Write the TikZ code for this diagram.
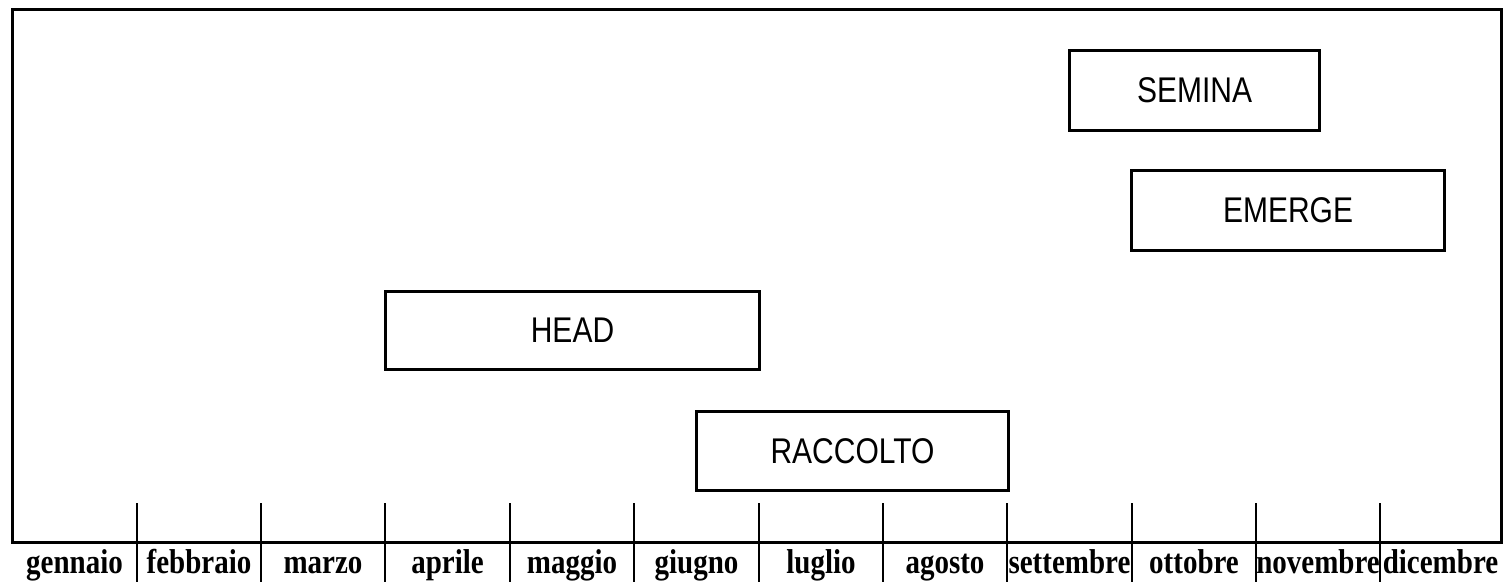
\documentclass[tikz,border=0pt]{standalone}
\usepackage{fontspec}
\setmainfont{Liberation Serif}
\newfontfamily\phasefont{Liberation Sans}
\begin{document}
\begin{tikzpicture}[x=1pt,y=-1pt,
  frame/.style={line width=3pt},
  tick/.style={line width=2pt},
  phase/.style={draw,line width=3pt,inner sep=0pt,anchor=north west,
    font=\fontsize{30}{30}\selectfont\phasefont},
  month/.style={anchor=base,inner sep=0pt,
    font=\fontsize{29}{29}\selectfont\bfseries}]
\useasboundingbox (0,0) rectangle (1503,582);
% calendar frame
\draw[frame] (12,9) rectangle (1501,542);
% month separators, running below the frame
\foreach \x in {137,261,385,510,634,759,883,1007,1132,1256,1380}
  \draw[tick] (\x,503) -- (\x,582);
% month names
\foreach \name/\x in {gennaio/74.5,febbraio/199,marzo/323,aprile/447.5,
    maggio/572,giugno/696.5,luglio/821,agosto/945,settembre/1069.5,
    ottobre/1194,novembre/1318,dicembre/1440.5}
  \node[month] (m-\name) at (\x,573) {\scalebox{1}[1.19]{\name}};
% crop phases
\node[phase,minimum width=250pt,minimum height=80pt] (semina) at (1068,49)
  {\scalebox{1}[1.19]{SEMINA}};
\node[phase,minimum width=313pt,minimum height=80pt] (emerge) at (1130,169)
  {\scalebox{1}[1.19]{EMERGE}};
\node[phase,minimum width=374pt,minimum height=78pt] (head) at (384,290)
  {\scalebox{1}[1.19]{HEAD}};
\node[phase,minimum width=312pt,minimum height=79pt] (raccolto) at (695,410)
  {\scalebox{1}[1.19]{RACCOLTO}};
\end{tikzpicture}
\end{document}
